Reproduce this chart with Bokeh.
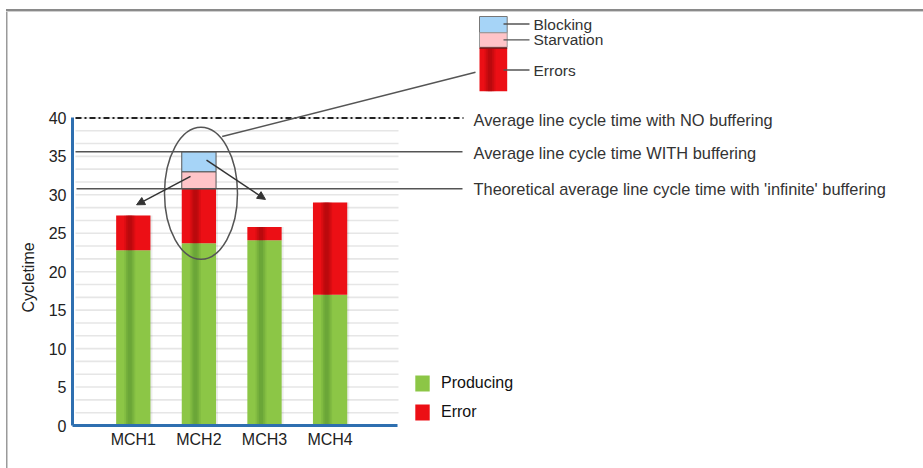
import math
from bokeh.plotting import figure
from bokeh.models import (ColumnDataSource, FixedTicker, Legend, LegendItem, Label,
                          BoxAnnotation, Arrow, NormalHead, Range1d)
from bokeh.embed import file_html
from bokeh.resources import INLINE

# ---------------- data ----------------
machines = ["MCH1", "MCH2", "MCH3", "MCH4"]
producing = [22.8, 23.7, 24.1, 17.0]
errors = [4.5, 7.1, 1.7, 12.0]
starvation = [0.0, 2.2, 0.0, 0.0]
blocking = [0.0, 2.6, 0.0, 0.0]
y_ticks = [0, 5, 10, 15, 20, 25, 30, 35, 40]
avg_no_buffer = 40.0
avg_with_buffer = 35.6
avg_infinite = 30.8
line_labels = ["Average line cycle time with NO buffering",
               "Average line cycle time WITH buffering",
               "Theoretical average line cycle time with 'infinite' buffering"]
schematic_labels = ["Blocking", "Starvation", "Errors"]
legend_labels = ["Producing", "Error"]
y_label = "Cycletime"

# ---------------- layout ----------------
W, H = 923, 468
FL, FB = 72, 425            # frame left / bottom in canvas px
PXX, PXY = 65.6, 7.69       # px per data unit
X0 = 1 - (132.8 - FL) / PXX
X1 = X0 + (W - FL) / PXX
Y1 = FB / PXY
BW = 34.3 / PXX
STRIPE_OFF = -3.5 / PXX

def dx(px):   # canvas px -> data x
    return X0 + (px - FL) / PXX

def sx(px):   # canvas px -> frame screen x
    return px - FL

def sy(py):   # canvas px -> frame screen y (upwards)
    return FB - py

FONT = "Liberation Sans"
BLUE = "#2e6fb0"
GREEN, GREEN_D = "#8cc646", "#5a9430"
RED, RED_D = "#ec0f15", "#a0070b"

p = figure(width=W, height=H, x_range=Range1d(X0, X1), y_range=Range1d(0, Y1),
           output_backend="svg", toolbar_location=None,
           min_border_left=FL, min_border_right=0, min_border_top=0,
           min_border_bottom=H - FB)
p.outline_line_color = None
p.xgrid.visible = False
p.ygrid.visible = False
p.background_fill_alpha = 0
p.border_fill_alpha = 0
# page frame (thin gray top and left rule) drawn as the host background
p.styles = {
    "background-color": "white",
    "background-image": "linear-gradient(#8a8a8a,#8a8a8a), linear-gradient(#cfcfcf,#cfcfcf), "
                        "linear-gradient(#9a9a9a,#9a9a9a)",
    "background-size": "917px 2px, 917px 1px, 1.5px 459px",
    "background-position": "6px 9px, 6px 11px, 6px 9px",
    "background-repeat": "no-repeat",
}

# axes
p.yaxis.ticker = FixedTicker(ticks=y_ticks)
p.yaxis.bounds = (0, y_ticks[-1])
xpos = list(range(1, len(machines) + 1))
p.xaxis.ticker = FixedTicker(ticks=xpos)
p.xaxis.major_label_overrides = {i: m for i, m in zip(xpos, machines)}
p.xaxis.bounds = (X0, dx(397))
for ax in (p.xaxis, p.yaxis):
    ax.axis_line_color = BLUE
    ax.axis_line_width = 3
    ax.major_tick_line_color = None
    ax.minor_tick_line_color = None
    ax.major_tick_out = 0
    ax.major_tick_in = 0
    ax.major_label_text_font = FONT
    ax.major_label_text_font_size = "16px"
    ax.major_label_text_color = "#222"
p.yaxis.major_label_standoff = 6
p.xaxis.major_label_standoff = 5

# y axis title, centred on the 0..40 axis span
p.add_layout(Label(x=0, y=sy(277), x_units="screen", y_units="screen", text=y_label,
                   angle=math.pi / 2, text_align="center", text_baseline="middle",
                   text_font=FONT, text_font_size="16px", text_color="#222"), "left")

# minor grid lines (drawn only over the bar area)
grid_y = [t + k * 5 / 3 for t in y_ticks[:-1] for k in (1, 2, 3)]
p.segment(x0=dx(75), x1=dx(398), y0=grid_y, y1=grid_y, line_color="#e6e6e6", line_width=1.6)

# bars
prod_top = producing
err_top = [a + b for a, b in zip(producing, errors)]
starv_top = [a + b for a, b in zip(err_top, starvation)]
block_top = [a + b for a, b in zip(starv_top, blocking)]
src = ColumnDataSource(dict(x=xpos, xs=[v + STRIPE_OFF for v in xpos],
                            xsh=[v + 2 / PXX for v in xpos],
                            p0=[0] * 4, p1=prod_top, e1=err_top,
                            s1=starv_top, b1=block_top))

# soft shadow on the right of each bar
p.vbar(x="xsh", width=BW, bottom="p0", top="e1", source=src,
       fill_color="#000000", fill_alpha=0.07, line_color=None)
r_green = p.vbar(x="x", width=BW, bottom="p0", top="p1", source=src,
                 fill_color=GREEN, line_color=None)
r_red = p.vbar(x="x", width=BW, bottom="p1", top="e1", source=src,
               fill_color=RED, line_color=None)
for w, a in ((11 / PXX, 0.2), (7.5 / PXX, 0.3), (4 / PXX, 0.35)):
    p.vbar(x="xs", width=w, bottom="p0", top="p1", source=src,
           fill_color=GREEN_D, fill_alpha=a, line_color=None)
    p.vbar(x="xs", width=w, bottom="p1", top="e1", source=src,
           fill_color=RED_D, fill_alpha=a, line_color=None)

mask = [i for i, v in enumerate(starvation) if v > 0]
src2 = ColumnDataSource(dict(x=[xpos[i] for i in mask], e1=[err_top[i] for i in mask],
                             s1=[starv_top[i] for i in mask], b1=[block_top[i] for i in mask]))
p.vbar(x="x", width=BW, bottom="e1", top="s1", source=src2,
       fill_color="#ffc4c8", line_color="#555", line_width=1)
p.vbar(x="x", width=BW, bottom="s1", top="b1", source=src2,
       fill_color="#a6d4f7", line_color="#555", line_width=1)

# average lines
p.segment(x0=dx(75), x1=dx(463), y0=avg_no_buffer, y1=avg_no_buffer,
          line_color="#222", line_width=2, line_dash="6 3 2 3")
p.segment(x0=dx(75), x1=dx(462), y0=avg_with_buffer, y1=avg_with_buffer,
          line_color="#555", line_width=1.5)
p.segment(x0=dx(76), x1=dx(462), y0=avg_infinite, y1=avg_infinite,
          line_color="#555", line_width=1.5)
for txt, yv, off in zip(line_labels, (avg_no_buffer, avg_with_buffer, avg_infinite), (-2, -1, 0)):
    p.add_layout(Label(x=sx(473), y=yv, x_units="screen", y_units="data", text=txt,
                       text_font=FONT, text_font_size="16.4px", text_color="#333",
                       text_baseline="middle", y_offset=off))

# ellipse around MCH2 losses
k = mask[0]
ex = xpos[k] + 0.032
ey = (err_top[k] + block_top[k]) / 2 - 3.0
p.ellipse(x=[ex], y=[ey], width=73, height=132, width_units="screen", height_units="screen",
          fill_color=None, line_color="#555", line_width=1.5)

# arrows from MCH2 to neighbours
p.add_layout(Arrow(end=NormalHead(size=8, fill_color="#333", line_color="#333"),
                   x_start=xpos[k] - 0.128, y_start=(err_top[k] + starv_top[k]) / 2 + 0.5,
                   x_end=xpos[0] + 0.05, y_end=err_top[0] + 1.4,
                   line_color="#333", line_width=1.5))
p.add_layout(Arrow(end=NormalHead(size=8, fill_color="#333", line_color="#333"),
                   x_start=xpos[k] + 0.116, y_start=(starv_top[k] + block_top[k]) / 2 + 0.2,
                   x_end=xpos[2] + 0.015, y_end=err_top[2] + 3.6,
                   line_color="#333", line_width=1.5))

# connector to schematic
p.add_layout(Arrow(start=None, end=None, x_start=sx(221.7), y_start=sy(136),
                   x_end=sx(475), y_end=sy(71.7), start_units="screen", end_units="screen",
                   line_color="#555", line_width=1.5))

# schematic legend box
def box(l, r, t, b, color, line="#777", lw=1, alpha=1.0):
    p.add_layout(BoxAnnotation(left=sx(l), right=sx(r), top=sy(t), bottom=sy(b),
                               left_units="screen", right_units="screen",
                               top_units="screen", bottom_units="screen",
                               fill_color=color, fill_alpha=alpha,
                               line_color=line, line_width=lw, line_alpha=1 if line else 0))

box(479, 506.7, 16, 32.3, "#a6d4f7", "#777")
box(479, 506.7, 32.3, 46.7, "#ffc4c8", "#999")
box(479, 506.7, 47.5, 90.7, RED, None, 0)
for w, a in ((11, 0.2), (7.5, 0.3), (4, 0.35)):
    c = 489.5
    box(c - w / 2, c + w / 2, 48.5, 90.7, RED_D, None, 0, a)
box(479, 506.7, 46.7, 48.3, "#6b1a1a", None, 0)
for txt, yy in zip(schematic_labels, (23.5, 39.3, 69.5)):
    p.add_layout(Arrow(start=None, end=None, x_start=sx(503), y_start=sy(yy),
                       x_end=sx(529), y_end=sy(yy), start_units="screen", end_units="screen",
                       line_color="#555", line_width=1.3))
    p.add_layout(Label(x=sx(533), y=sy(yy), x_units="screen", y_units="screen", text=txt,
                       text_font=FONT, text_font_size="15.5px", text_color="#333",
                       text_baseline="middle"))

# legend
legend = Legend(items=[LegendItem(label=legend_labels[0], renderers=[r_green]),
                       LegendItem(label=legend_labels[1], renderers=[r_red])],
                location=(341, 3), padding=0, margin=0, spacing=9,
                glyph_width=18, glyph_height=20, label_height=20, label_standoff=10,
                label_text_font=FONT, label_text_font_size="16px", label_text_color="#111",
                border_line_color=None, background_fill_alpha=0)
p.add_layout(legend)

open("out.html", "w").write(file_html(p, INLINE))
